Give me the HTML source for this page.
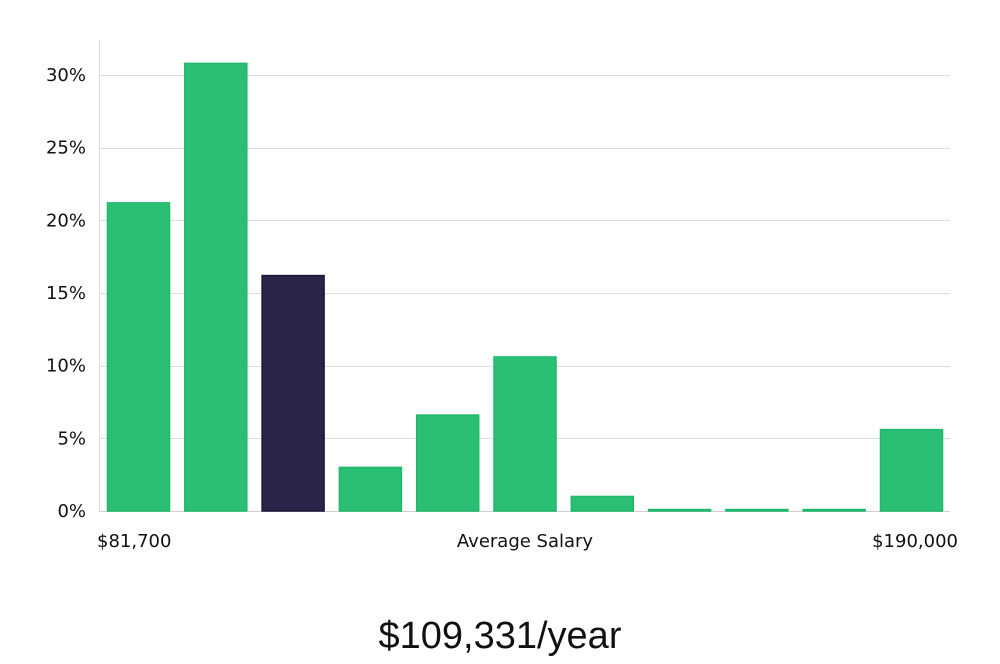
<!DOCTYPE html>
<html><head><meta charset="utf-8"><style>
html,body{margin:0;padding:0;background:#fff;}
body{width:1000px;height:660px;overflow:hidden;font-family:"DejaVu Sans","Liberation Sans",sans-serif;}
</style></head><body>
<svg id="chart" width="1000" height="660" xmlns="http://www.w3.org/2000/svg">
<g id="grid"></g>
<g id="yticks"></g>
<line x1="99.5" y1="40" x2="99.5" y2="511" stroke="#dcdcdc" stroke-width="1"/>
<g id="bars"></g>
<text x="97" y="547" font-size="18" fill="#111">$81,700</text>
<text x="525" y="547" font-size="18" fill="#111" text-anchor="middle">Average Salary</text>
<text x="958" y="547" font-size="18" fill="#111" text-anchor="end">$190,000</text>
<text x="500" y="648" font-size="38" fill="#111" text-anchor="middle" font-family="Liberation Sans, sans-serif" font-weight="300">$109,331/year</text>
</svg>
<script>
const values = [21.2, 30.8, 16.2, 3.0, 6.6, 10.6, 1.0, 0.1, 0.1, 0.1, 5.6];
const highlightIndex = 2;
const yTicks = [0, 5, 10, 15, 20, 25, 30];
const yTickLabels = ["0%", "5%", "10%", "15%", "20%", "25%", "30%"];
const NS = "http://www.w3.org/2000/svg";
const y0 = 511, pxPerUnit = (511 - 75) / 30;
function yScale(v){ return y0 - v * pxPerUnit; }
const x0 = 107, step = 77.3, bw = 63;
function xScale(i){ return x0 + i * step; }
const grid = document.getElementById('grid');
const yt = document.getElementById('yticks');
yTicks.forEach((t,i)=>{
  const y = Math.round(yScale(t)) + 0.5;
  const l = document.createElementNS(NS,'line');
  
  
  l.setAttribute('x1',99); l.setAttribute('x2',950);
  l.setAttribute('y1',y); l.setAttribute('y2',y);
  l.setAttribute('stroke', t===0 ? '#cfcfcf' : '#dedede');
  grid.appendChild(l);
  const tx = document.createElementNS(NS,'text');
  
  
  tx.setAttribute('x',86); tx.setAttribute('y',yScale(t)+6);
  tx.setAttribute('text-anchor','end'); tx.setAttribute('font-size','18'); tx.setAttribute('fill','#111');
  tx.textContent = yTickLabels[i];
  yt.appendChild(tx);
});
const bars = document.getElementById('bars');
values.forEach((v,i)=>{
  const r = document.createElementNS(NS,'rect');
  
  
  const top = yScale(v);
  r.setAttribute('x', xScale(i)+0.5);
  r.setAttribute('y', top);
  r.setAttribute('width', bw-1);
  r.setAttribute('height', Math.max(1, y0 - top));
  const hi = i===highlightIndex;
  r.setAttribute('fill', hi ? '#29254a' : '#2bbf76');
  r.setAttribute('stroke', hi ? '#1c1838' : '#1fb86b');
  r.setAttribute('stroke-width','1.5');
  bars.appendChild(r);
});
</script>
</body></html>
